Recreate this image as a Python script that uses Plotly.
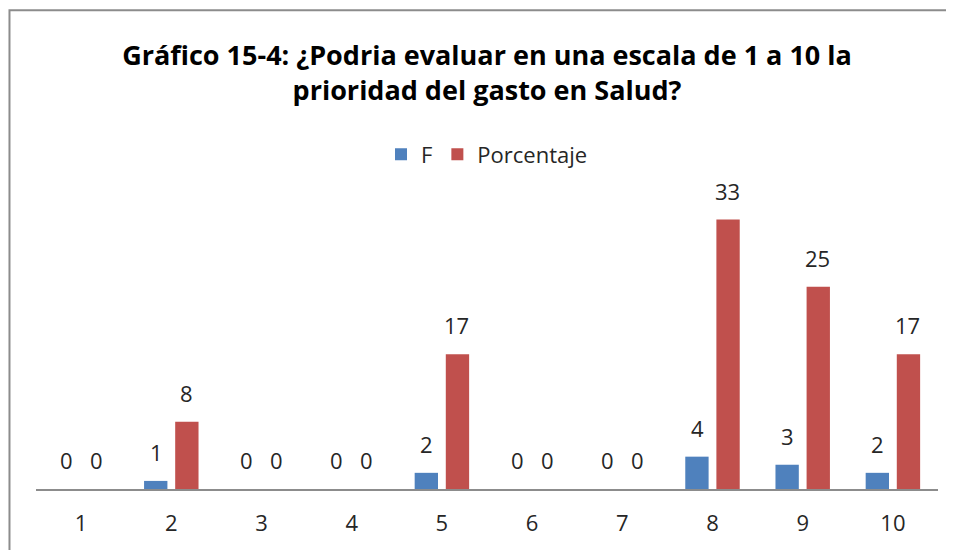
import plotly.graph_objects as go

categories = ["1", "2", "3", "4", "5", "6", "7", "8", "9", "10"]
f_values = [0, 1, 0, 0, 2, 0, 0, 4, 3, 2]
pct_values = [0, 8.33, 0, 0, 16.67, 0, 0, 33.33, 25, 16.67]
series_names = ["F", "Porcentaje"]
colors = ["#4F81BD", "#C0504D"]
title_lines = ["Gráfico 15-4: ¿Podria evaluar en una escala de 1 a 10 la",
               "prioridad del gasto en Salud?"]

FONT = "Open Sans"

fig = go.Figure()
for name, vals, col in zip(series_names, [f_values, pct_values], colors):
    fig.add_trace(go.Bar(x=categories, y=vals, name=name, marker_color=col,
                         marker_line_width=0))

annotations = []
for vals, shift in zip([f_values, pct_values], [-15, 15]):
    for idx, v in enumerate(vals):
        annotations.append(dict(x=idx, y=v, xref="x", yref="y", text=f"{v:.0f}",
                                showarrow=False, xshift=shift, yshift=12,
                                yanchor="bottom",
                                font=dict(family=FONT, size=22, color="#262626")))

shapes = [dict(type="rect", xref="paper", yref="paper",
               x0=-0.0294, x1=1.05, y0=-0.35, y1=1.692,
               line=dict(color="#8C8C8C", width=2), fillcolor="rgba(0,0,0,0)",
               layer="below")]

fig.update_layout(
    width=954, height=550,
    margin=dict(l=28, r=24, t=198, b=69),
    paper_bgcolor="white", plot_bgcolor="white",
    barmode="group", bargap=0.31, bargroupgap=0.25,
    title=dict(text="<b>" + title_lines[0] + "<br>" + title_lines[1] + "</b>",
               x=0.5, xref="paper", xanchor="center",
               y=0.897, yref="container", yanchor="middle",
               font=dict(family=FONT, size=27, color="#000000")),
    legend=dict(orientation="h", x=0.5, xanchor="center", y=1.182,
                yanchor="middle", font=dict(family=FONT, size=22, color="#262626"),
                itemwidth=30, traceorder="normal"),
    xaxis=dict(type="category", showline=True, linecolor="#8C8C8C", linewidth=1.5,
               ticks="", ticklabelstandoff=14,
               tickfont=dict(family=FONT, size=22, color="#262626"),
               showgrid=False, zeroline=False),
    yaxis=dict(range=[0, 35], visible=False, showgrid=False, zeroline=False),
    annotations=annotations,
    shapes=shapes,
    showlegend=True,
)

fig.write_html("out.html")
